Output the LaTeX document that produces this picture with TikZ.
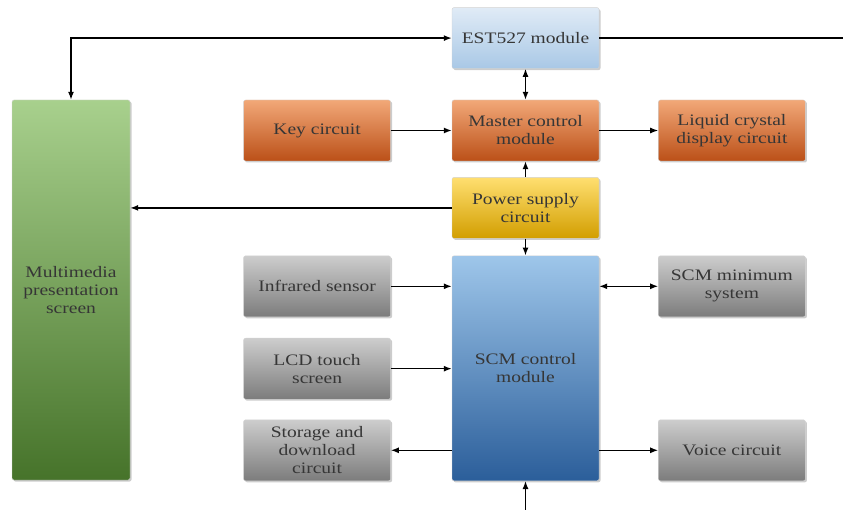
\documentclass[tikz,border=0pt]{standalone}
\usepackage{fontspec}
\setmainfont[FakeStretch=1.22]{Liberation Serif}
\usepackage{tikz}
\usetikzlibrary{arrows.meta,positioning,shadows}

\definecolor{txtgray}{HTML}{363636}
\definecolor{estTop}{HTML}{E0EBF6}
\definecolor{estBot}{HTML}{A9C8E6}
\definecolor{orTop}{HTML}{F2A878}
\definecolor{orBot}{HTML}{BB5018}
\definecolor{yeTop}{HTML}{FFDF70}
\definecolor{yeBot}{HTML}{D29E00}
\definecolor{grTop}{HTML}{CDCDCD}
\definecolor{grBot}{HTML}{7C7C7C}
\definecolor{gnTop}{HTML}{A8D08D}
\definecolor{gnBot}{HTML}{46732A}
\definecolor{scTop}{HTML}{9EC6EA}
\definecolor{scBot}{HTML}{2B5E9A}

\begin{document}
\begin{tikzpicture}[
    x = 1pt, y = -1pt, % pixel like units, y going down
    > = {Latex[length=8pt,width=6pt]}, % arrow head style
    line width = 1.4pt % line style
    ]

    \tikzset{block/.style={
    draw = gray!35,
    thin,
    rounded corners = 2pt,
    minimum width = 147pt,
    minimum height = 61pt,
    inner sep = 0pt,
    align = center,
    text = txtgray,
    font = \fontsize{16}{18}\selectfont,
    drop shadow = {shadow xshift=1.5pt, shadow yshift=-1.5pt, opacity=.4}
    }}
    \tikzset{estbox/.style={block, top color=estTop, bottom color=estBot}}
    \tikzset{orangebox/.style={block, top color=orTop, bottom color=orBot}}
    \tikzset{yellowbox/.style={block, top color=yeTop, bottom color=yeBot}}
    \tikzset{graybox/.style={block, top color=grTop, bottom color=grBot}}
    \tikzset{scmbox/.style={block, top color=scTop, bottom color=scBot, minimum height=225pt}}
    \tikzset{mediabox/.style={block, top color=gnTop, bottom color=gnBot, minimum width=118pt, minimum height=380pt}}

    \useasboundingbox (0,0) rectangle (843,510);

    \node[orangebox] (master) at (525.5,130.5) {Master control\\module};
    \node[estbox] (est) [above=31pt of master] {EST527 module};
    \node[orangebox] (key) [left=61pt of master] {Key circuit};
    \node[orangebox] (lcdc) [right=59pt of master] {Liquid crystal\\display circuit};
    \node[yellowbox] (power) [below=16pt of master] {Power supply\\circuit};
    \node[scmbox] (scm) [below=17pt of power] {SCM control\\module};
    \node[graybox, anchor=north] (infra) at (key.center |- scm.north) {Infrared sensor};
    \node[graybox] (touch) [below=21pt of infra] {LCD touch\\screen};
    \node[graybox, anchor=south] (store) at (key.center |- scm.south) {Storage and\\download\\circuit};
    \node[graybox, anchor=north] (scmmin) at (lcdc.center |- scm.north) {SCM minimum\\system};
    \node[graybox, anchor=south] (voice) at (lcdc.center |- scm.south) {Voice circuit};
    \node[mediabox] (media) at (71,290) {Multimedia\\presentation\\screen};

    \coordinate (outR) at (843,38.5);
    \coordinate (inB) at (525.5,510);

    \draw[<->] (media.north) |- (est.west);
    \draw (est.east) -- (est.east -| outR);
    \draw[<->] (est) -- (master);
    \draw[->] (key) -- (master);
    \draw[->] (master) -- (lcdc);
    \draw[->] (power) -- (master);
    \draw[->] (power) -- (scm);
    \draw[->] (power) -- (media.east |- power.west);
    \draw[->] (infra) -- (infra -| scm.west);
    \draw[->] (touch) -- (touch -| scm.west);
    \draw[->] (scm.west |- store) -- (store);
    \draw[<->] (scm.east |- scmmin) -- (scmmin);
    \draw[->] (scm.east |- voice) -- (voice);
    \draw[->] (inB) -- (scm);
\end{tikzpicture}
\end{document}
